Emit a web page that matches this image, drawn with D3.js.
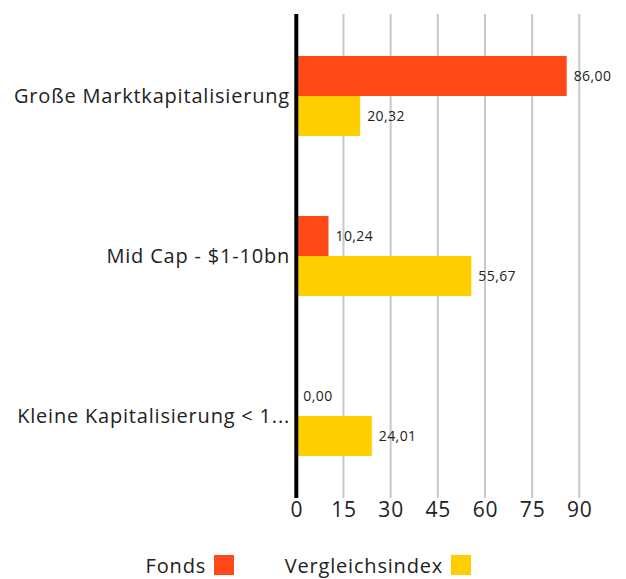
<!DOCTYPE html>
<html><head><meta charset="utf-8">
<script src="https://cdn.jsdelivr.net/npm/d3@7"></script>
<style>body{margin:0;background:#fff}svg{display:block}text{font-family:"Open Sans",sans-serif;fill:#222}</style>
</head><body>
<script>
const categories = ["Große Marktkapitalisierung", "Mid Cap - $1-10bn", "Kleine Kapitalisierung < 1..."];
const seriesNames = ["Fonds", "Vergleichsindex"];
const fondsValues = [86.00, 10.24, 0.00];
const indexValues = [20.32, 55.67, 24.01];
const tickValues = [0, 15, 30, 45, 60, 75, 90];
const colors = ["#FF4A17", "#FFCE00"];

const W = 626, H = 579;
const svg = d3.select("body").append("svg").attr("width", W).attr("height", H);

const x = d3.scaleLinear().domain([0, 90]).range([296.3, 579.3]);
const y = d3.scaleBand().domain(categories).range([14, 498]).paddingInner(0.5).paddingOuter(0.2625);
const ySub = d3.scaleBand().domain(seriesNames).range([0, y.bandwidth()]);

// gridlines
svg.append("g").selectAll("line").data(tickValues.filter(d => d > 0)).join("line")
  .attr("x1", d => x(d)).attr("x2", d => x(d))
  .attr("y1", 14).attr("y2", 498)
  .attr("stroke", "#c8c8c8").attr("stroke-width", 2);

const data = categories.map((c, i) => ({cat: c, vals: [fondsValues[i], indexValues[i]]}));

const groups = svg.append("g").selectAll("g").data(data).join("g")
  .attr("transform", d => `translate(0,${y(d.cat)})`);

groups.selectAll("rect").data(d => d.vals.map((v, j) => ({v, s: seriesNames[j], j}))).join("rect")
  .attr("x", x(0)).attr("y", d => ySub(d.s))
  .attr("width", d => x(d.v) - x(0)).attr("height", ySub.bandwidth())
  .attr("fill", d => colors[d.j]);

groups.selectAll("text.val").data(d => d.vals.map((v, j) => ({v, s: seriesNames[j], j}))).join("text")
  .attr("class", "val")
  .attr("x", d => x(d.v) + 7).attr("y", d => ySub(d.s) + ySub.bandwidth() / 2)
  .attr("dy", "0.35em").attr("font-size", 14).attr("letter-spacing", 0.4)
  .text(d => d3.format(".2f")(d.v).replace(".", ","));

// category labels
svg.append("g").selectAll("text").data(categories).join("text")
  .attr("x", 290).attr("y", d => y(d) + y.bandwidth() / 2)
  .attr("dy", "0.35em").attr("text-anchor", "end").attr("font-size", 20).attr("letter-spacing", 0.8)
  .text(d => d);

// axis line
svg.append("line").attr("x1", 296.3).attr("x2", 296.3).attr("y1", 14).attr("y2", 498)
  .attr("stroke", "#000").attr("stroke-width", 4);

// x tick labels
const xAxis = d3.axisBottom(x).tickValues(tickValues).tickSize(0).tickPadding(0);
const gx = svg.append("g").attr("transform", "translate(0,502)").call(xAxis);
gx.select(".domain").remove();
gx.selectAll("text").attr("font-size", 21).attr("dy", "0.71em").attr("letter-spacing", 0.8)
  .style("font-family", "\"Open Sans\",sans-serif").attr("fill", "#222");

// legend
const legend = [
  {name: seriesNames[0], color: colors[0], sq: 214},
  {name: seriesNames[1], color: colors[1], sq: 451}
];
const lg = svg.append("g").selectAll("g").data(legend).join("g");
lg.append("text").attr("x", d => d.sq - 8).attr("y", 573).attr("text-anchor", "end")
  .attr("font-size", 20).attr("letter-spacing", 0.8).text(d => d.name);
lg.append("rect").attr("x", d => d.sq).attr("y", 555).attr("width", 20).attr("height", 20).attr("fill", d => d.color);
</script>
</body></html>
